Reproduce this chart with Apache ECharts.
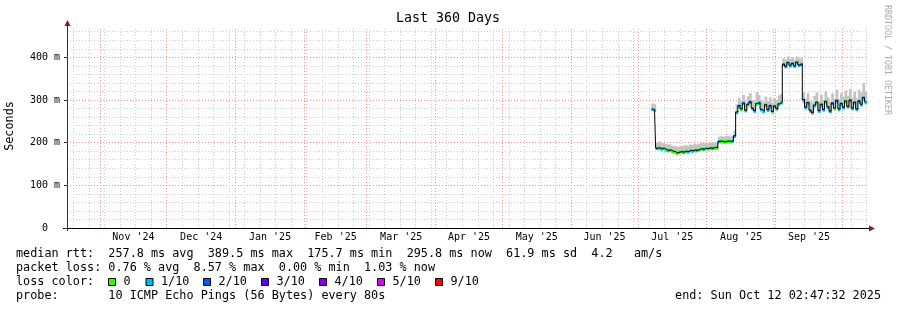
<!DOCTYPE html>
<html><head><meta charset="utf-8">
<script src="https://cdn.jsdelivr.net/npm/echarts@6/dist/echarts.min.js"></script>
<style>html,body{margin:0;padding:0;background:#fff}#c{width:897px;height:310px}</style>
</head><body><div id="c"></div>
<script>
// ---- data (values in ms), one sample per day starting 2025-07-07 (noon) ----
const firstSampleDay = [2025, 6, 7];
const medianMs = [
 279,277,187,188,186,187,184,182,183,180,179,176,178,179,178,180,179,182,181,183,182,184,186,185,187,
 186,188,187,189,188,203,204,202,203,204,203,204,216,272,
 287,279,293,276,290,296,281,275,292,294,278,274,289,277,287,273,286,280,291,295,
 384,379,388,381,386,380,389,382,385,
 301,
 283,294,276,271,288,295,275,290,278,297,284,274,293,281,299,279,292,283,298,285,300,281,295,279,298,290,306,296
];
const smokeLowMs = [
 275,274,183,184,182,183,180,178,179,176,175,174,175,175,175,176,175,178,177,179,178,180,182,181,183,
 182,184,183,185,184,199,200,198,199,200,199,200,212,266,
 281,274,287,271,284,290,276,270,286,288,273,269,283,272,281,268,280,275,285,289,
 378,374,382,376,380,375,383,377,379,
 292,
 277,287,270,266,282,288,270,284,272,290,278,269,287,275,292,273,286,277,291,279,293,275,289,273,291,284,297,289
];
const smokeHighMs = [
 292,290,201,203,200,199,197,196,196,193,192,191,191,192,193,194,193,196,195,197,196,198,199,199,200,
 199,201,200,201,200,214,215,214,215,216,214,215,228,290,
 305,298,312,296,309,316,300,296,318,312,299,294,308,297,306,293,305,300,311,314,
 398,395,402,396,400,394,402,397,399,
 318,
 303,316,298,294,310,318,297,313,300,320,306,296,316,303,324,302,316,308,322,310,326,305,320,304,324,318,340,320
];
const lossTenths = [
 1,1,1,0,1,0,0,1,0,0,0,0,0,0,1,0,1,0,1,0,1,0,0,1,0,
 0,0,1,0,0,1,0,0,0,0,0,1,1,1,1,0,1,1,0,1,1,1,0,1,1,1,0,1,1,0,1,
 1,0,1,1,1,0,1,1,1,0,1,1,1,1,0,1,1,1,0,1,1,1,0,1,1,1,0,1,1,1,
 1,0,1,1,1,0,1,1,1,1,1
];
const yTickLabels = ['0  ', '100 m', '200 m', '300 m', '400 m'];
const monthLabels = ["Nov '24","Dec '24","Jan '25","Feb '25","Mar '25","Apr '25","May '25","Jun '25","Jul '25","Aug '25","Sep '25"];
const lossLegendLabels = ['0','1/10','2/10','3/10','4/10','5/10','9/10'];
const lossColors = ['#26ff00','#00b8ff','#0059ff','#5e00ff','#7e00ff','#dd00ff','#ff0000'];
const statLines = [
 'median rtt:  257.8 ms avg  389.5 ms max  175.7 ms min  295.8 ms now  61.9 ms sd  4.2   am/s',
 'packet loss: 0.76 % avg  8.57 % max  0.00 % min  1.03 % now',
 'loss color:',
 'probe:       10 ICMP Echo Pings (56 Bytes) every 80s'
];
const endLabel = 'end: Sun Oct 12 02:47:32 2025';

// ---- setup ----
const DAY = 86400000;
const tStart = Date.UTC(2024, 9, 17, 2, 47, 32);
const tEnd = Date.UTC(2025, 9, 12, 2, 47, 32);
const t0 = Date.UTC(firstSampleDay[0], firstSampleDay[1], firstSampleDay[2], 12);
const times = medianMs.map((_, i) => t0 + i * DAY);
const smokeData = times.map((t, i) => [t, smokeLowMs[i], smokeHighMs[i]]);
const lossData = times.map((t, i) => [t, medianMs[i], lossTenths[i]]);
const medianData = times.map((t, i) => [t, medianMs[i]]);

const MONO = '"DejaVu Sans Mono", monospace';
const minorColor = 'rgb(205,205,205)';
const majorColor = 'rgb(238,150,150)';

function lossColor(l) { return lossColors[Math.min(l, 6)]; }

const vLines = [];
for (let t = Date.UTC(2024, 9, 20); t <= tEnd; t += 7 * DAY) {
  vLines.push({ xAxis: t, lineStyle: { color: minorColor, type: [1, 2], width: 1 } });
}
for (let m = 0; m < 12; m++) {
  vLines.push({ xAxis: Date.UTC(2024, 10 + m, 1), lineStyle: { color: majorColor, type: [1, 2], width: 1 } });
}
monthLabels.forEach((lab, i) => {
  const a = Date.UTC(2024, 10 + i, 1), b = Date.UTC(2024, 11 + i, 1);
  vLines.push({ xAxis: (a + b) / 2, lineStyle: { color: 'rgba(0,0,0,0)', width: 0 },
    label: { show: true, position: 'start', distance: 4, formatter: lab, color: '#000', opacity: 1,
      fontFamily: MONO, fontSize: 10 } });
});

function renderSmoke(params, api) {
  const t = api.value(0), lo = api.value(1), hi = api.value(2);
  const p1 = api.coord([t - DAY / 2, hi]);
  const p2 = api.coord([t + DAY / 2, lo]);
  return { type: 'rect', shape: { x: p1[0], y: p1[1], width: p2[0] - p1[0] + 0.5, height: p2[1] - p1[1] },
    style: { fill: '#c4c4c4' } };
}
function renderLoss(params, api) {
  const t = api.value(0), v = api.value(1), l = api.value(2);
  const p1 = api.coord([t - DAY / 2, v]);
  const p2 = api.coord([t + DAY / 2, v]);
  return { type: 'rect', shape: { x: p1[0], y: p1[1] - 1, width: p2[0] - p1[0] + 0.5, height: 3 },
    style: { fill: lossColor(l) } };
}

const graphics = [];
graphics.push({ type: 'text', x: 448, y: 19, style: { text: 'Last 360 Days', font: '13.3px ' + MONO, fill: '#000',
  textAlign: 'center', align: 'center', textVerticalAlign: 'middle', verticalAlign: 'middle' } });
graphics.push({ type: 'text', x: 10, y: 126, rotation: Math.PI / 2, style: { text: 'Seconds', font: '11.8px ' + MONO, fill: '#000',
  textAlign: 'center', align: 'center', textVerticalAlign: 'middle', verticalAlign: 'middle' } });
graphics.push({ type: 'text', x: 887, y: 60, rotation: -Math.PI / 2, style: { text: 'RRDTOOL / TOBI OETIKER', font: '8.3px ' + MONO, fill: '#aaaaaa',
  textAlign: 'center', align: 'center', textVerticalAlign: 'middle', verticalAlign: 'middle' } });
const rowY = [254.3, 268.3, 282.3, 296.3];
statLines.forEach((s, i) => {
  graphics.push({ type: 'text', x: 16, y: rowY[i], style: { text: s, font: '11.8px ' + MONO, fill: '#000',
    textAlign: 'left', align: 'left', textVerticalAlign: 'middle', verticalAlign: 'middle' } });
});
graphics.push({ type: 'text', x: 881, y: rowY[3], style: { text: endLabel, font: '11.8px ' + MONO, fill: '#000',
  textAlign: 'right', align: 'right', textVerticalAlign: 'middle', verticalAlign: 'middle' } });
const sqX = [108.5, 146, 203.5, 261.5, 319.5, 377.5, 435.5];
lossLegendLabels.forEach((lab, i) => {
  graphics.push({ type: 'rect', shape: { x: sqX[i], y: 278.5, width: 7, height: 7 }, style: { fill: lossColors[i], stroke: '#000', lineWidth: 1 } });
  graphics.push({ type: 'text', x: sqX[i] + 15, y: rowY[2], style: { text: lab, font: '11.8px ' + MONO, fill: '#000',
    textAlign: 'left', align: 'left', textVerticalAlign: 'middle', verticalAlign: 'middle' } });
});
// axis extensions and arrows
graphics.push({ type: 'line', shape: { x1: 67.5, y1: 231, x2: 67.5, y2: 25 }, style: { stroke: '#333', lineWidth: 1 } });
graphics.push({ type: 'line', shape: { x1: 63, y1: 228.5, x2: 869, y2: 228.5 }, style: { stroke: '#000', lineWidth: 1 } });
graphics.push({ type: 'polygon', shape: { points: [[67.5, 20], [64.5, 26], [70.5, 26]] }, style: { fill: '#7f1f1f' } });
graphics.push({ type: 'polygon', shape: { points: [[875, 228.5], [869, 225.5], [869, 231.5]] }, style: { fill: '#7f1f1f' } });

const chart = echarts.init(document.getElementById('c'), null, { renderer: 'canvas' });
chart.setOption({
  animation: false,
  backgroundColor: '#fff',
  grid: { left: 67, top: 28, width: 800, height: 200, containLabel: false },
  xAxis: { type: 'time', min: tStart, max: tEnd, axisLabel: { show: false }, axisTick: { show: false },
    splitLine: { show: false }, axisLine: { show: true, lineStyle: { color: '#000', width: 1 } } },
  yAxis: [
    { type: 'value', min: 0, max: 468.75, interval: 100, z: 1,
      axisLine: { show: true, lineStyle: { color: '#333' } },
      axisTick: { show: true, length: 3, lineStyle: { color: '#333' } },
      axisLabel: { margin: 7, showMaxLabel: false, fontFamily: MONO, fontSize: 10, color: '#000',
        formatter: v => yTickLabels[Math.round(v / 100)] || '' },
      splitLine: { show: true, showMinLine: false, showMaxLine: false, lineStyle: { color: majorColor, type: [1, 2], width: 1 } } },
    { type: 'value', min: 0, max: 468.75, interval: 20, z: 0,
      axisLine: { show: false }, axisTick: { show: false }, axisLabel: { show: false },
      splitLine: { show: true, showMinLine: false, showMaxLine: false, lineStyle: { color: minorColor, type: [1, 2], width: 1 } } }
  ],
  graphic: graphics,
  series: [
    { type: 'custom', name: 'smoke', z: 2, data: smokeData, renderItem: renderSmoke, encode: { x: 0, y: [1, 2] } },
    { type: 'custom', name: 'loss', z: 3, data: lossData, renderItem: renderLoss, encode: { x: 0, y: 1 } },
    { type: 'line', name: 'median', z: 4, data: medianData, step: 'middle', showSymbol: false,
      lineStyle: { color: '#000', width: 1 },
      markLine: { silent: true, symbol: ['none', 'none'], z: 1, label: { show: false }, data: vLines } }
  ]
});
</script></body></html>
